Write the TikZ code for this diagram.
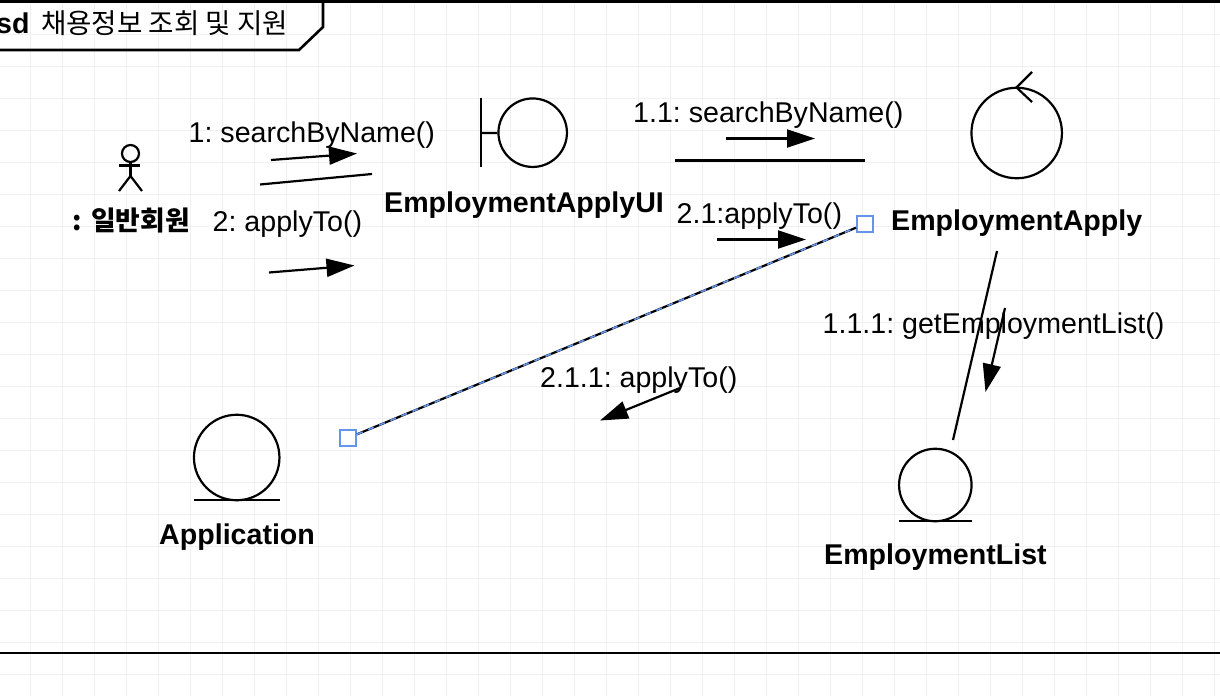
\documentclass[tikz,border=0pt]{standalone}
\usepackage{fontspec}
\setmainfont{Liberation Sans}
\newfontfamily\krfont{Noto Sans CJK KR}
\usetikzlibrary{arrows.meta}
\definecolor{gridgray}{HTML}{F0F0F0}
\definecolor{handleblue}{HTML}{6495ED}
\frenchspacing
\tikzset{
  lbl/.style={anchor=base west, inner sep=0pt, font=\fontsize{28.6}{32}\selectfont},
  bold lbl/.style={lbl, font=\fontsize{28.6}{32}\selectfont\bfseries},
  obj/.style={circle, draw, line width=2.2pt, inner sep=0pt},
  lnk/.style={line width=2.2pt},
  msg/.style={line width=2.2pt, -{Triangle[length=28pt, width=18pt]}},
  handle/.style={draw=handleblue, line width=2pt, fill=white, inner sep=0pt, minimum size=16pt},
}
\begin{document}
\begin{tikzpicture}[x=1pt,y=-1pt]
\useasboundingbox (0,0) rectangle (1220,696);
\foreach \gx in {0,...,37} \draw[gridgray, line width=1pt] (30.7+32*\gx,0) -- (30.7+32*\gx,696);
\foreach \gy in {0,...,20} \draw[gridgray, line width=1pt] (0,34+32*\gy) -- (1220,34+32*\gy);
\draw[line width=2.8pt] (0,1.2) -- (1220,1.2);
\draw[line width=2.4pt] (0,653) -- (1220,653);
\draw[line width=2.6pt] (323,1) -- (323,27) -- (299,50) -- (0,50);
\node[bold lbl] (sdtag) at (-4,33) {sd};
\node[lbl, font=\fontsize{27.6}{32}\selectfont\krfont] (sdtitle) at (41,33) {채용정보 조회 및 지원};
\node[obj, minimum size=17pt] (head) at (130.5,153.5) {};
\coordinate (hip) at (130.5,176);
\coordinate (armL) at (119,165.5);
\coordinate (armR) at (140,165.5);
\coordinate (legL) at (119,191);
\coordinate (legR) at (142,191);
\draw[lnk] (head) -- (hip);
\draw[lnk] (armL) -- (armR);
\draw[lnk] (legL) -- (hip) -- (legR);
\node[bold lbl, font=\fontsize{26.8}{32}\selectfont\krfont\bfseries] (actorlbl) at (72,230) {:\hspace{3.5pt} 일반회원};
\node[obj, minimum size=68.5pt] (ui) at (532.7,132.7) {};
\coordinate (uitop) at (481,98);
\coordinate (uibot) at (481,167);
\coordinate (uimid) at (481,133);
\draw[lnk] (uitop) -- (uibot);
\draw[lnk] (uimid) -- (ui);
\node[bold lbl] (uilbl) at (384,212) {EmploymentApplyUI};
\node[obj, minimum size=90.5pt] (ctrl) at (1016.7,133) {};
\coordinate (ctrlA) at (1032,72);
\coordinate (ctrlB) at (1016.5,87.5);
\coordinate (ctrlC) at (1032,102);
\draw[lnk] (ctrlA) -- (ctrlB) -- (ctrlC);
\node[bold lbl] (ctrllbl) at (891,230) {EmploymentApply};
\node[obj, minimum size=85.5pt] (app) at (236.7,457.5) {};
\coordinate (appL) at (194,500);
\coordinate (appR) at (280,500);
\draw[lnk] (appL) -- (appR);
\node[bold lbl] (applbl) at (159,544) {Application};
\node[obj, minimum size=72.5pt] (list) at (935.3,485) {};
\coordinate (listL) at (899,521);
\coordinate (listR) at (972,521);
\draw[lnk] (listL) -- (listR);
\node[bold lbl] (listlbl) at (824,564) {EmploymentList};
\coordinate (l1a) at (260,184.5);
\coordinate (l1b) at (372,174);
\draw[lnk] (l1a) -- (l1b);
\coordinate (l2a) at (675,160);
\coordinate (l2b) at (865,160);
\draw[line width=3pt] (l2a) -- (l2b);
\coordinate (l3a) at (997,251);
\coordinate (l3b) at (953,440);
\draw[lnk] (l3a) -- (l3b);
\node[handle] (hA) at (348,438) {};
\node[handle] (hB) at (865,224) {};
\draw[lnk] (hA) -- (hB);
\draw[handleblue, line width=1.6pt, dash pattern=on 6pt off 6pt] (hA) -- (hB);
\node[lbl] (m1) at (188.5,142) {1: searchByName()};
\coordinate (m1a) at (271,160);
\coordinate (m1b) at (357,153.5);
\draw[msg] (m1a) -- (m1b);
\node[lbl] (m2) at (212.5,231) {2: applyTo()};
\coordinate (m2a) at (269,272.5);
\coordinate (m2b) at (354.5,265.5);
\draw[msg] (m2a) -- (m2b);
\node[lbl] (m11) at (633,122.5) {1.1: searchByName()};
\coordinate (m11a) at (726,138.5);
\coordinate (m11b) at (815,138.5);
\draw[msg] (m11a) -- (m11b);
\node[lbl] (m21) at (676.5,223.5) {2.1:applyTo()};
\coordinate (m21a) at (717,239.5);
\coordinate (m21b) at (806,239.5);
\draw[msg] (m21a) -- (m21b);
\node[lbl] (m111) at (822.5,333) {1.1.1: getEmploymentList()};
\coordinate (m111a) at (1005,308);
\coordinate (m111b) at (985.5,392);
\draw[msg] (m111a) -- (m111b);
\node[lbl] (m211) at (540,387) {2.1.1: applyTo()};
\coordinate (m211a) at (680,388);
\coordinate (m211b) at (600,420.5);
\draw[msg] (m211a) -- (m211b);
\end{tikzpicture}
\end{document}
